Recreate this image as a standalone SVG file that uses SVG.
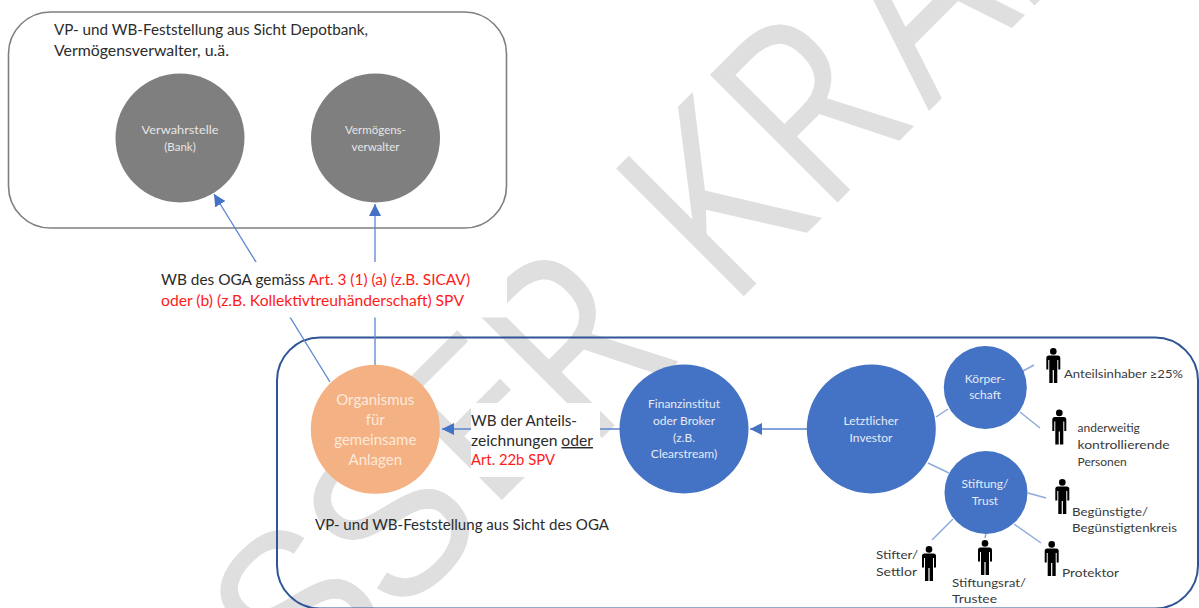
<svg xmlns="http://www.w3.org/2000/svg" width="1199" height="608" viewBox="0 0 1199 608">
<style>
text{font-family:Lato,"Open Sans","Liberation Sans",sans-serif}
.wm{font-family:"Open Sans","Liberation Sans",sans-serif;font-size:253px;fill:#dfdfdf}
.wms{font-family:"Liberation Sans","Open Sans",sans-serif;font-size:226px;fill:#dfdfdf}
.big{font-size:14.5px;fill:#2b2b2b}
.red{fill:#ff1a1a}
.sm{font-size:12px;fill:#3a3a3a}
.in{font-size:12px;fill:#e4ebf7;text-anchor:middle}
.gr{font-size:11.5px;fill:#e6e6e6;text-anchor:middle}
.or{font-size:15px;fill:#fde9da;text-anchor:middle}
.blue{fill:#4472c4}
.grey{fill:#7f7f7f}
.lnk2{stroke:#8faadc;stroke-width:1.5;fill:none}
.arr{stroke:#5b84cf;stroke-width:1.3;fill:none;marker-end:url(#ah)}
</style>
<defs>
<marker id="ah" markerUnits="userSpaceOnUse" markerWidth="13" markerHeight="12" refX="12" refY="6" orient="auto"><path d="M0 0L12 6L0 12Z" fill="#4472c4"/></marker>
<g id="person"><circle cx="7" cy="3.4" r="3.3"/><path d="M2.5 7.5H11.5Q14 7.5 14 10V21.5H12V12H11V35H7.6V22H6.4V35H3V12H2V21.5H0V10Q0 7.5 2.5 7.5Z"/></g>
</defs>
<rect width="1199" height="608" fill="#fff"/>
<g id="watermark">
<text class="wms" transform="translate(310,705) rotate(-45) scale(.9,1)" x="-10">S</text>
<text class="wms" transform="translate(403,615) rotate(-45) scale(.9,1)" x="-10">S</text>
<text class="wm" transform="translate(502,500) rotate(-45) scale(.88,.84)" x="-25">E</text>
<text class="wm" transform="translate(744,296) rotate(-45) scale(.85,1)" x="-261 -100 -25 131 308 459">R KRAF</text>
</g>
<g id="box-top"><rect x="8.5" y="12" width="498" height="216" rx="42" fill="none" stroke="#7f7f7f" stroke-width="1.6"/></g>
<g id="box-bottom"><rect x="277" y="337.500" width="921" height="271" rx="43" fill="none" stroke="#2f5597" stroke-width="2"/></g>
<g id="connectors">
<path class="arr" d="M330 382L214 194"/>
<path class="arr" d="M375 365V204"/>
<path class="arr" d="M621 429H442"/>
<path class="arr" d="M807 429H750"/>
<path class="lnk2" d="M936 417L948 409M928 463L949 473M1023 371L1034 365M1020 412L1040 428M1028 493L1046 498M953 519L932 540M986 533L985 538M1014 524L1041 543"/>
</g>
<g id="title-top"><text class="big" x="54" y="35" textLength="314" lengthAdjust="spacingAndGlyphs">VP- und WB-Feststellung aus Sicht Depotbank,</text><text class="big" x="54" y="56" textLength="175" lengthAdjust="spacingAndGlyphs">Vermögensverwalter, u.ä.</text></g>
<g id="verwahrstelle"><circle class="grey" cx="180" cy="138" r="64.500"/><text class="gr" x="180" y="134" textLength="77" lengthAdjust="spacingAndGlyphs">Verwahrstelle</text><text class="gr" x="180" y="151">(Bank)</text></g>
<g id="vermoegensverwalter"><circle class="grey" cx="375.500" cy="138" r="64.500"/><text class="gr" x="375.500" y="134">Vermögens-</text><text class="gr" x="375.500" y="151">verwalter</text></g>
<g id="label-oga"><rect x="145" y="262" width="362" height="55.500" fill="#fff"/><text class="big" x="161" y="285" textLength="309" lengthAdjust="spacingAndGlyphs">WB des OGA gemäss <tspan class="red">Art. 3 (1) (a) (z.B. SICAV)</tspan></text><text class="big red" x="161" y="306" textLength="303" lengthAdjust="spacingAndGlyphs">oder (b) (z.B. Kollektivtreuhänderschaft) SPV</text></g>
<g id="organismus"><circle cx="375.300" cy="429.300" r="64.500" fill="#f4b183"/><text class="or" x="375.300" y="405">Organismus</text><text class="or" x="375.300" y="425">für</text><text class="or" x="375.300" y="445">gemeinsame</text><text class="or" x="375.300" y="465">Anlagen</text></g>
<g id="label-anteil"><rect x="471" y="403" width="129" height="74" fill="#fff"/><text class="big" x="471" y="426" textLength="106" lengthAdjust="spacingAndGlyphs">WB der Anteils-</text><text class="big" x="471" y="446" textLength="122" lengthAdjust="spacingAndGlyphs">zeichnungen <tspan text-decoration="underline">oder</tspan></text><text class="big red" x="471" y="465" textLength="84" lengthAdjust="spacingAndGlyphs">Art. 22b SPV</text></g>
<g id="finanzinstitut"><circle class="blue" cx="684" cy="429" r="64.500"/><text class="in" x="684" y="408">Finanzinstitut</text><text class="in" x="684" y="425">oder Broker</text><text class="in" x="684" y="442">(z.B.</text><text class="in" x="684" y="458">Clearstream)</text></g>
<g id="investor"><circle class="blue" cx="871.300" cy="429" r="64.500"/><text class="in" x="871" y="425">Letztlicher</text><text class="in" x="871" y="442">Investor</text></g>
<g id="koerperschaft"><circle class="blue" cx="985.300" cy="387.500" r="41.500"/><text class="in" x="985" y="383">Körper-</text><text class="in" x="985" y="399">schaft</text></g>
<g id="stiftung"><circle class="blue" cx="986" cy="492.500" r="41.500"/><text class="in" x="985" y="488">Stiftung/</text><text class="in" x="985" y="505">Trust</text></g>
<text class="big" x="315" y="530" textLength="294" lengthAdjust="spacingAndGlyphs">VP- und WB-Feststellung aus Sicht des OGA</text>
<g id="anteilsinhaber"><use href="#person" x="1046.300" y="348"/><text class="sm" x="1064" y="378" textLength="119" lengthAdjust="spacingAndGlyphs">Anteilsinhaber ≥25%</text></g>
<g id="kontrollierende"><use href="#person" x="1052.300" y="409.500"/><text class="sm" x="1077.500" y="432">anderweitig</text><text class="sm" x="1077.500" y="449" textLength="92" lengthAdjust="spacingAndGlyphs">kontrollierende</text><text class="sm" x="1077.500" y="466">Personen</text></g>
<g id="beguenstigte"><use href="#person" x="1055.300" y="479"/><text class="sm" x="1072" y="516" textLength="76" lengthAdjust="spacingAndGlyphs">Begünstigte/</text><text class="sm" x="1072" y="532" textLength="105" lengthAdjust="spacingAndGlyphs">Begünstigtenkreis</text></g>
<g id="stifter"><use href="#person" x="922" y="546"/><text class="sm" x="876" y="559" textLength="42" lengthAdjust="spacingAndGlyphs">Stifter/</text><text class="sm" x="876" y="576" textLength="41" lengthAdjust="spacingAndGlyphs">Settlor</text></g>
<g id="stiftungsrat"><use href="#person" x="978" y="540"/><text class="sm" x="952" y="587" textLength="74" lengthAdjust="spacingAndGlyphs">Stiftungsrat/</text><text class="sm" x="952" y="603" textLength="45" lengthAdjust="spacingAndGlyphs">Trustee</text></g>
<g id="protektor"><use href="#person" x="1044.700" y="541"/><text class="sm" x="1062" y="577" textLength="57" lengthAdjust="spacingAndGlyphs">Protektor</text></g>
</svg>
